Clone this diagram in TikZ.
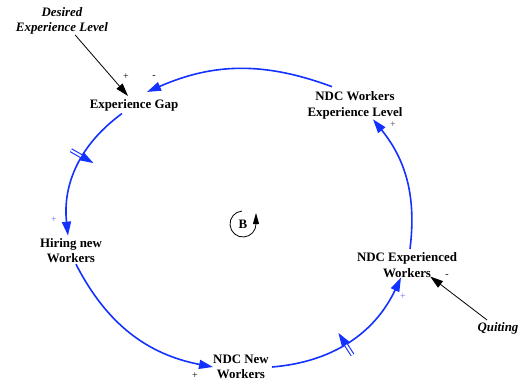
\documentclass[tikz,border=0pt]{standalone}
\usepackage{fontspec}
\setmainfont{Liberation Serif}
\usetikzlibrary{arrows.meta,decorations.markings}
\definecolor{loopblue}{RGB}{20,50,255}
\definecolor{plusblue}{RGB}{110,110,255}
\tikzset{
  var/.style={font=\fontsize{12.9}{15.5}\selectfont\bfseries, align=center, inner sep=0pt},
  exo/.style={font=\fontsize{12.9}{15.5}\selectfont\bfseries\itshape, align=center, inner sep=0pt},
  flow/.style={draw=loopblue, line width=1.6pt, -{Triangle[length=14pt,width=9pt]}, fill=none},
  link/.style={draw=black, line width=0.8pt, -{Triangle[length=13pt,width=8pt]}},
  pol/.style={font=\fontsize{10}{12}\selectfont, inner sep=0pt},
  delay/.style={postaction={decorate, decoration={markings,
     mark=at position #1 with {\draw[loopblue, line width=1.1pt, double=white, double distance=2pt] (0,-13pt) -- (0,13pt);}}}}
}
\begin{document}
\begin{tikzpicture}[x=1pt,y=1pt]
\useasboundingbox (0,0) rectangle (518,384);
\node[var] (gap) at (134,278.5) {Experience Gap};
\node[var] (level) at (355,278.5) {NDC Workers\\Experience Level};
\node[var] (hire) at (71,133.3) {Hiring new\\Workers};
\node[var] (exp) at (407,119) {NDC Experienced\\Workers};
\node[var] (new) at (241,17) {NDC New\\Workers};
\node[exo] (desired) at (62,363) {Desired\\Experience Level};
\node[exo] (quit) at (498,55.5) {Quiting};
\node[font=\fontsize{12.9}{15.5}\selectfont\bfseries, inner sep=0pt] (B) at (243,160) {B};

\draw[flow] ([xshift=-23pt,yshift=5pt]level.north) to[bend right=22] ([xshift=13pt,yshift=7.5pt]gap.north);
\draw[flow, delay=0.42] ([xshift=-12pt,yshift=-2pt]gap.south) to[bend right=30] ([xshift=-3pt,yshift=2.5pt]hire.north);
\draw[flow] ([xshift=5pt,yshift=-1pt]hire.south) to[bend right=26] (new.west);
\draw[flow, delay=0.47] ([xshift=3pt]new.east) to[bend right=30] ([xshift=-6pt]exp.south);
\draw[flow] ([xshift=3pt,yshift=3.5pt]exp.north) to[bend right=23] ([xshift=18pt]level.south);

\draw[link] ([xshift=13pt]desired.south) -- ([xshift=-6pt,yshift=3.5pt]gap.north);
\draw[link] ([xshift=-11pt,yshift=2.5pt]quit.north) -- ([xshift=-27pt,yshift=1pt]exp.south east);

\draw[line width=0.8pt, -{Triangle[length=11pt,width=6pt]}] (B.center) ++(95:13) arc[start angle=95, end angle=360, radius=13] -- ++(0,11);

\node[pol] (p1) at (126,307) {+};
\node[pol] (m1) at (154,307) {-};
\node[pol, text=black!70] (p2) at (393,259) {+};
\node[pol, text=plusblue] (p3) at (54,164) {+};
\node[pol] (p4) at (195,8) {+};
\node[pol, text=plusblue] (p5) at (403,87) {+};
\node[pol] (m2) at (447,108) {-};
\end{tikzpicture}
\end{document}
